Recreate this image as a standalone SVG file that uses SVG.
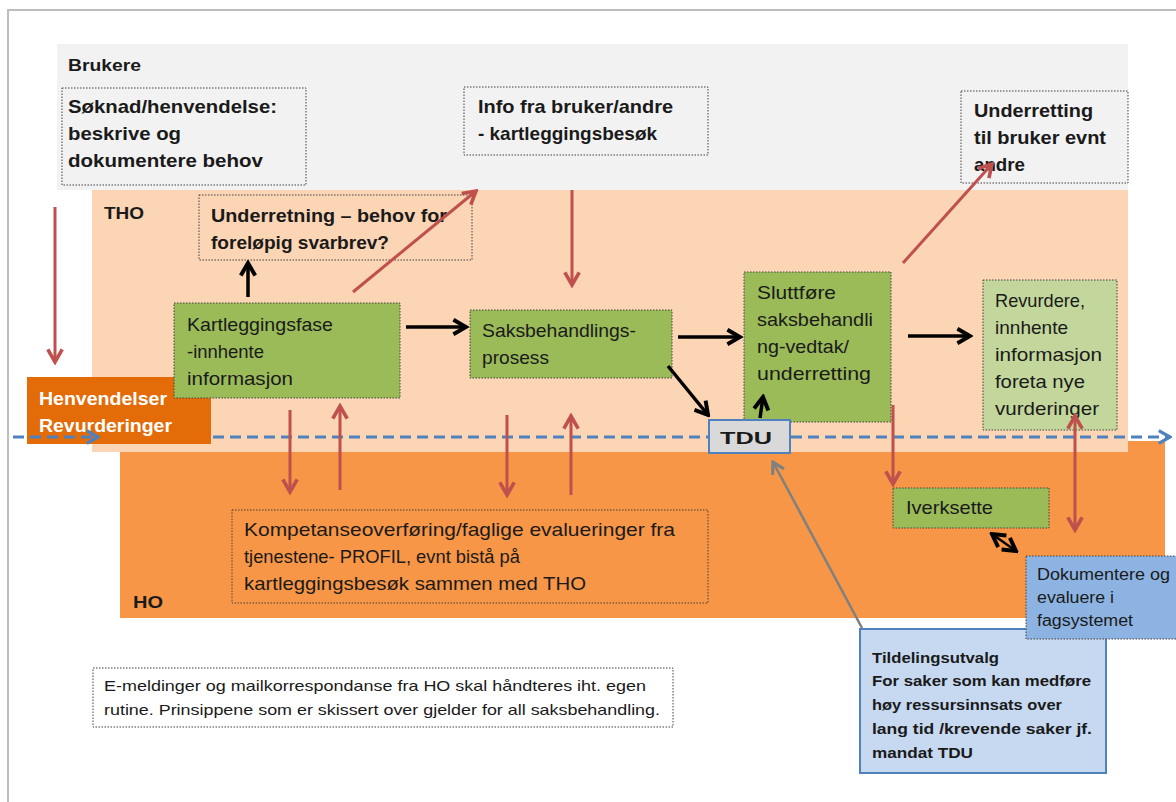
<svg xmlns="http://www.w3.org/2000/svg" width="1176" height="802" viewBox="0 0 1176 802">
<defs>
<style>
.t{font-family:"Liberation Sans",Arial,sans-serif;fill:#1a1a1a}
.b{font-weight:bold}
.r{font-size:19px}
.bb{font-size:18.5px;font-weight:bold}
.box{stroke:#404040;stroke-width:1;stroke-dasharray:1.5 1.5}
.red{stroke:#c0504d;stroke-width:3;fill:none}
.blk{stroke:#000;stroke-width:3.5;fill:none}
.blue{stroke:#4f81bd;stroke-width:3;fill:none;stroke-dasharray:11 6}
</style>
<marker id="mr" viewBox="0 0 10 10" refX="8.5" refY="5" markerWidth="18" markerHeight="18" markerUnits="userSpaceOnUse" orient="auto-start-reverse"><path d="M1.5,1 L8.5,5 L1.5,9" fill="none" stroke="#c0504d" stroke-width="2"/></marker>
<marker id="mk" viewBox="0 0 10 10" refX="8.5" refY="5" markerWidth="18" markerHeight="18" markerUnits="userSpaceOnUse" orient="auto-start-reverse"><path d="M1.5,1 L8.5,5 L1.5,9" fill="none" stroke="#000" stroke-width="2.2"/></marker>
<marker id="mb" viewBox="0 0 10 10" refX="8.5" refY="5" markerWidth="16" markerHeight="16" markerUnits="userSpaceOnUse" orient="auto"><path d="M1.5,1 L8.5,5 L1.5,9" fill="none" stroke="#4f81bd" stroke-width="2"/></marker>
<marker id="mg" viewBox="0 0 10 10" refX="8.5" refY="5" markerWidth="16" markerHeight="16" markerUnits="userSpaceOnUse" orient="auto"><path d="M1.5,1 L8.5,5 L1.5,9" fill="none" stroke="#808080" stroke-width="2"/></marker>
</defs>
<rect width="1176" height="802" fill="#fff"/>
<path d="M8,802 V10 H1176" fill="none" stroke="#bdbdbd" stroke-width="2"/>

<g id="bands">
<rect x="57" y="44" width="1071" height="146" fill="#f2f2f2"/>
<rect x="120" y="441" width="1045" height="177" fill="#f79646"/>
<rect x="92" y="190" width="1036" height="262" fill="#fcd5b5"/>
<text class="t b" x="68" y="71" font-size="17" textLength="73" lengthAdjust="spacingAndGlyphs">Brukere</text>
<text class="t b" x="104" y="219" font-size="16" textLength="40" lengthAdjust="spacingAndGlyphs">THO</text>
<text class="t b" x="133" y="608" font-size="16" textLength="30" lengthAdjust="spacingAndGlyphs">HO</text>
</g>

<g id="henvendelser">
<rect x="27" y="377" width="184" height="67" fill="#e36c09"/>
<text class="t b" x="39" y="405" font-size="19" style="fill:#fff" textLength="128" lengthAdjust="spacingAndGlyphs">Henvendelser</text>
<text class="t b" x="39" y="432" font-size="19" style="fill:#fff" textLength="133" lengthAdjust="spacingAndGlyphs">Revurderinger</text>
</g>

<g id="soknad">
<rect class="box" x="62" y="88" width="244" height="97" fill="#f2f2f2"/>
<text class="t bb" x="68" y="113" textLength="209" lengthAdjust="spacingAndGlyphs">Søknad/henvendelse:</text>
<text class="t bb" x="68" y="140" textLength="113" lengthAdjust="spacingAndGlyphs">beskrive og</text>
<text class="t bb" x="68" y="167" textLength="195" lengthAdjust="spacingAndGlyphs">dokumentere behov</text>
</g>

<g id="info">
<rect class="box" x="464" y="87" width="244" height="68" fill="#f2f2f2"/>
<text class="t bb" x="478" y="113" textLength="195" lengthAdjust="spacingAndGlyphs">Info fra bruker/andre</text>
<text class="t bb" x="478" y="140" textLength="179" lengthAdjust="spacingAndGlyphs">- kartleggingsbesøk</text>
</g>

<g id="underretting-bruker">
<rect class="box" x="961" y="91" width="167" height="92" fill="#f2f2f2"/>
<text class="t bb" x="974" y="117" textLength="119" lengthAdjust="spacingAndGlyphs">Underretting</text>
<text class="t bb" x="974" y="144" textLength="132" lengthAdjust="spacingAndGlyphs">til bruker evnt</text>
<text class="t bb" x="974" y="171" textLength="51" lengthAdjust="spacingAndGlyphs">andre</text>
</g>

<g id="underretning">
<rect class="box" x="199" y="195" width="273" height="65" fill="#fcd5b5"/>
<text class="t bb" x="211" y="222" textLength="236" lengthAdjust="spacingAndGlyphs">Underretning – behov for</text>
<text class="t bb" x="211" y="249" textLength="178" lengthAdjust="spacingAndGlyphs">foreløpig svarbrev?</text>
</g>

<g id="kartlegging">
<rect class="box" x="174" y="303" width="226" height="95" fill="#9bbb59"/>
<text class="t r" x="187" y="331" textLength="146" lengthAdjust="spacingAndGlyphs">Kartleggingsfase</text>
<text class="t r" x="187" y="358" textLength="77" lengthAdjust="spacingAndGlyphs">-innhente</text>
<text class="t r" x="187" y="385" textLength="106" lengthAdjust="spacingAndGlyphs">informasjon</text>
</g>

<g id="saksbehandling">
<rect class="box" x="470" y="310" width="202" height="68" fill="#9bbb59"/>
<text class="t r" x="482" y="337" textLength="154" lengthAdjust="spacingAndGlyphs">Saksbehandlings-</text>
<text class="t r" x="482" y="364" textLength="67" lengthAdjust="spacingAndGlyphs">prosess</text>
</g>

<g id="sluttfore">
<rect class="box" x="744" y="272" width="147" height="150" fill="#9bbb59"/>
<text class="t r" x="757" y="299" textLength="79" lengthAdjust="spacingAndGlyphs">Sluttføre</text>
<text class="t r" x="757" y="326" textLength="116" lengthAdjust="spacingAndGlyphs">saksbehandli</text>
<text class="t r" x="757" y="353" textLength="92" lengthAdjust="spacingAndGlyphs">ng-vedtak/</text>
<text class="t r" x="757" y="380" textLength="114" lengthAdjust="spacingAndGlyphs">underretting</text>
</g>

<g id="revurdere">
<rect class="box" x="983" y="280" width="134" height="150" fill="#c3d69b"/>
<text class="t r" x="995" y="307" textLength="90" lengthAdjust="spacingAndGlyphs">Revurdere,</text>
<text class="t r" x="995" y="334" textLength="73" lengthAdjust="spacingAndGlyphs">innhente</text>
<text class="t r" x="995" y="361" textLength="107" lengthAdjust="spacingAndGlyphs">informasjon</text>
<text class="t r" x="995" y="388" textLength="90" lengthAdjust="spacingAndGlyphs">foreta nye</text>
<text class="t r" x="995" y="415" textLength="104" lengthAdjust="spacingAndGlyphs">vurderinger</text>
</g>

<g id="iverksette">
<rect class="box" x="893" y="488" width="156" height="40" fill="#9bbb59"/>
<text class="t r" x="906" y="514" textLength="87" lengthAdjust="spacingAndGlyphs">Iverksette</text>
</g>

<g id="kompetanse">
<rect class="box" x="232" y="510" width="476" height="93" fill="#f79646"/>
<text class="t r" x="244" y="536" textLength="431" lengthAdjust="spacingAndGlyphs">Kompetanseoverføring/faglige  evalueringer  fra</text>
<text class="t r" x="244" y="563" textLength="276" lengthAdjust="spacingAndGlyphs">tjenestene- PROFIL, evnt bistå på</text>
<text class="t r" x="244" y="590" textLength="342" lengthAdjust="spacingAndGlyphs">kartleggingsbesøk  sammen med THO</text>
</g>

<g id="emeldinger">
<rect class="box" x="93" y="668" width="580" height="59" fill="#fff"/>
<text class="t" x="104" y="691" font-size="14.5" textLength="542" lengthAdjust="spacingAndGlyphs">E-meldinger og mailkorrespondanse fra HO  skal håndteres iht. egen</text>
<text class="t" x="104" y="715" font-size="14.5" textLength="556" lengthAdjust="spacingAndGlyphs">rutine. Prinsippene som er skissert over gjelder for all saksbehandling.</text>
</g>

<g id="tildelingsutvalg">
<rect x="860" y="629" width="246" height="144" fill="#c6d9f1" stroke="#4f81bd" stroke-width="2"/>
<text class="t b" x="872" y="663" font-size="15" textLength="127" lengthAdjust="spacingAndGlyphs">Tildelingsutvalg</text>
<text class="t b" x="872" y="686" font-size="15" textLength="219" lengthAdjust="spacingAndGlyphs">For saker som kan medføre</text>
<text class="t b" x="872" y="710" font-size="15" textLength="190" lengthAdjust="spacingAndGlyphs">høy ressursinnsats over</text>
<text class="t b" x="872" y="734" font-size="15" textLength="220" lengthAdjust="spacingAndGlyphs">lang tid /krevende saker jf.</text>
<text class="t b" x="872" y="758" font-size="15" textLength="101" lengthAdjust="spacingAndGlyphs">mandat TDU</text>
</g>

<g id="dokumentere">
<rect class="box" x="1026" y="556" width="152" height="83" fill="#8db3e2"/>
<text class="t" x="1037" y="580" font-size="16" textLength="133" lengthAdjust="spacingAndGlyphs">Dokumentere og</text>
<text class="t" x="1037" y="603" font-size="16" textLength="77" lengthAdjust="spacingAndGlyphs">evaluere i</text>
<text class="t" x="1037" y="626" font-size="16" textLength="96" lengthAdjust="spacingAndGlyphs">fagsystemet</text>
</g>

<g id="connectors">
<line class="blue" x1="13" y1="437" x2="98" y2="437" marker-end="url(#mb)"/>
<line class="blue" x1="213" y1="437" x2="1170" y2="437" marker-end="url(#mb)"/>
<line class="red" x1="55" y1="207" x2="55" y2="362" marker-end="url(#mr)"/>
<line class="red" x1="353" y1="292" x2="476" y2="191" marker-end="url(#mr)"/>
<line class="red" x1="572" y1="190" x2="572" y2="285" marker-end="url(#mr)"/>
<line class="red" x1="903" y1="263" x2="992" y2="164" marker-end="url(#mr)"/>
<line class="red" x1="290" y1="410" x2="290" y2="492" marker-end="url(#mr)"/>
<line class="red" x1="340" y1="490" x2="340" y2="406" marker-end="url(#mr)"/>
<line class="red" x1="507" y1="415" x2="507" y2="495" marker-end="url(#mr)"/>
<line class="red" x1="571" y1="495" x2="571" y2="416" marker-end="url(#mr)"/>
<line class="red" x1="893" y1="405" x2="893" y2="484" marker-end="url(#mr)"/>
<line class="red" x1="1075" y1="416" x2="1075" y2="530" marker-start="url(#mr)" marker-end="url(#mr)"/>
<line class="blk" x1="248" y1="297" x2="248" y2="263" marker-end="url(#mk)"/>
<line class="blk" x1="406" y1="327" x2="466" y2="327" marker-end="url(#mk)"/>
<line class="blk" x1="678" y1="337" x2="740" y2="337" marker-end="url(#mk)"/>
<line class="blk" x1="668" y1="366" x2="708" y2="415" marker-end="url(#mk)"/>
<line class="blk" x1="760" y1="418" x2="763" y2="397" marker-end="url(#mk)"/>
<line class="blk" x1="908" y1="336" x2="970" y2="336" marker-end="url(#mk)"/>
<line x1="992" y1="534" x2="1016" y2="551" stroke="#000" stroke-width="2.5" marker-start="url(#mk)" marker-end="url(#mk)"/>
<line x1="862" y1="628" x2="773" y2="462" stroke="#808080" stroke-width="2.5" marker-end="url(#mg)"/>
</g>

<g id="tdu">
<rect x="709" y="420" width="81" height="33" fill="#d9d9d9" stroke="#4f81bd" stroke-width="2"/>
<text class="t b" x="720" y="444" font-size="17" textLength="52" lengthAdjust="spacingAndGlyphs">TDU</text>
</g>
</svg>
